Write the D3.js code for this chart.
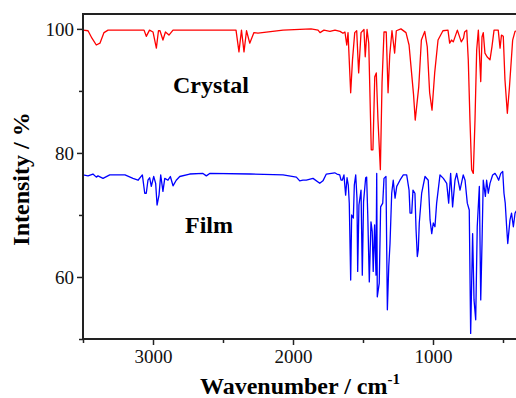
<!DOCTYPE html>
<html>
<head>
<meta charset="utf-8">
<script src="https://cdn.jsdelivr.net/npm/d3@7"></script>
<style>
  body { margin: 0; background: #fff; }
  text { font-family: "Liberation Serif", "Times New Roman", serif; }
</style>
</head>
<body>
<svg id="chart" width="516" height="398"></svg>
<script>
// [wavenumber, intensity]
const crystal = [
  [3500, 99.8], [3464, 99.7], [3436, 98.5], [3405, 97.4], [3379, 97.7], [3350, 99.4], [3321, 99.8],
  [3064, 99.8], [3048, 98.8], [3025, 99.8], [3000, 99.5], [2976, 96.9], [2961, 99.7], [2950, 99.7],
  [2929, 98.2], [2911, 99.5], [2886, 99.0], [2857, 99.8], [2407, 99.8], [2386, 96.3], [2368, 99.8],
  [2350, 96.3], [2332, 99.7], [2309, 97.7], [2279, 99.4], [2250, 99.3], [2071, 99.8], [1871, 100],
  [1821, 99.8], [1807, 99.4], [1779, 99.8], [1736, 99.6], [1700, 99.8], [1664, 99.6], [1643, 99.3],
  [1629, 99.5], [1616, 97.4], [1607, 99.4], [1588, 89.7], [1575, 95.0], [1559, 99.4], [1545, 99.7],
  [1531, 92.9], [1514, 99.4], [1493, 99.9], [1484, 95.5], [1471, 99.9], [1459, 97.7], [1441, 80.5],
  [1429, 80.5], [1416, 92.3], [1405, 92.9], [1393, 85.3], [1376, 77.3], [1364, 91.3], [1350, 99.5],
  [1334, 99.5], [1321, 89.7], [1309, 95.8], [1293, 99.7], [1274, 96.1], [1262, 99.7], [1229, 100],
  [1193, 99.4], [1171, 97.4], [1155, 93.4], [1139, 89.4], [1127, 85.3], [1102, 90.6], [1083, 98.2],
  [1059, 99.6], [1041, 97.1], [1024, 89.7], [1007, 86.9], [988, 92.9], [964, 98.2], [929, 99.7],
  [893, 99.8], [881, 97.7], [868, 98.2], [855, 97.9], [826, 99.8], [798, 97.9], [782, 98.5],
  [774, 99.5], [759, 99.8], [748, 95.0], [736, 85.3], [724, 77.3], [712, 76.7], [700, 85.3],
  [688, 96.6], [676, 99.8], [659, 91.5], [650, 98.7], [641, 99.4], [629, 96.1], [614, 95.5],
  [593, 95.0], [579, 97.1], [564, 99.8], [534, 99.8], [521, 96.9], [511, 99.0], [498, 98.8],
  [486, 91.8], [469, 86.4], [454, 90.6], [431, 98.2], [414, 99.6], [400, 99.7]
];

const film = [
  [3500, 76.45], [3464, 76.3], [3429, 76.6], [3405, 76.1], [3393, 76.3], [3357, 75.9], [3309, 76.45],
  [3200, 76.45], [3143, 75.9], [3107, 75.6], [3076, 76.45], [3059, 73.5], [3048, 73.5], [3036, 75.6],
  [3024, 76.0], [3012, 74.6], [2995, 76.2], [2981, 75.1], [2971, 71.6], [2957, 73.2], [2945, 76.45],
  [2929, 73.8], [2916, 75.9], [2893, 75.6], [2876, 76.2], [2857, 74.7], [2834, 75.6], [2809, 76.2],
  [2738, 76.6], [2643, 76.7], [2619, 76.3], [2595, 76.7], [2307, 76.6], [2071, 76.45], [1976, 76.1],
  [1952, 75.5], [1929, 75.6], [1905, 75.6], [1857, 75.9], [1809, 75.1], [1786, 75.5], [1762, 76.6],
  [1702, 76.8], [1686, 76.6], [1666, 76.45], [1657, 75.6], [1648, 75.6], [1636, 76.45], [1624, 73.2],
  [1614, 76.0], [1605, 74.8], [1598, 71.9], [1588, 59.5], [1581, 70.0], [1569, 69.5], [1562, 74.8],
  [1552, 76.45], [1543, 72.7], [1538, 60.9], [1529, 71.6], [1514, 74.0], [1505, 60.3], [1496, 72.1],
  [1481, 76.0], [1474, 76.1], [1466, 70.0], [1455, 59.2], [1443, 68.9], [1434, 67.3], [1427, 60.9],
  [1417, 68.4], [1407, 60.3], [1402, 76.7], [1398, 56.8], [1384, 59.0], [1374, 71.3], [1359, 71.9],
  [1350, 75.9], [1336, 76.2], [1326, 54.7], [1316, 61.7], [1307, 65.4], [1295, 73.5], [1284, 75.6],
  [1271, 72.7], [1259, 74.6], [1236, 75.6], [1212, 76.45], [1188, 76.45], [1171, 74.0], [1164, 70.3],
  [1152, 70.3], [1143, 74.0], [1129, 73.5], [1121, 67.6], [1112, 63.3], [1105, 64.4], [1098, 68.7],
  [1081, 73.5], [1057, 76.2], [1034, 75.6], [1021, 69.2], [1009, 67.0], [998, 68.7], [986, 68.1],
  [974, 71.9], [950, 76.45], [926, 75.9], [902, 75.1], [888, 71.9], [874, 76.7], [860, 71.3],
  [843, 75.6], [831, 76.7], [807, 74.0], [784, 76.45], [771, 75.6], [755, 71.9], [741, 70.8],
  [731, 50.9], [717, 67.0], [707, 56.3], [695, 53.1], [684, 68.1], [669, 74.6], [659, 56.3],
  [650, 65.4], [641, 75.6], [626, 73.0], [617, 75.6], [605, 73.5], [593, 75.1], [574, 76.45],
  [557, 76.7], [543, 76.2], [531, 75.6], [516, 76.7], [502, 77.0], [493, 73.5], [484, 71.9],
  [474, 68.1], [466, 65.4], [457, 67.6], [450, 69.2], [439, 70.3], [426, 68.1], [414, 70.3], [400, 70.8]
];

const xTicks = [3500, 3000, 2500, 2000, 1500, 1000, 500];
const xLabels = [3000, 2000, 1000];
const yTicks = [50, 60, 70, 80, 90, 100];
const yLabels = [60, 80, 100];

const mLeft = 83, mTop = 14, mRight = 517, mBottom = 339;
const serif = "'Liberation Serif', 'Times New Roman', serif";

const svg = d3.select("#chart");

const x = d3.scaleLinear().domain([3500, 400]).range([mLeft, mRight]);
const y = d3.scaleLinear().domain([50, 102.4]).range([mBottom, mTop]);

svg.append("clipPath").attr("id", "clip")
  .append("rect")
  .attr("x", mLeft).attr("y", mTop)
  .attr("width", mRight - mLeft).attr("height", mBottom - mTop);

const line = d3.line()
  .x(d => x(d[0]))
  .y(d => y(d[1]));

svg.append("path")
  .datum(crystal)
  .attr("clip-path", "url(#clip)")
  .attr("fill", "none")
  .attr("stroke", "#ff0000")
  .attr("stroke-width", 1.3)
  .attr("stroke-linejoin", "round")
  .attr("d", line);

svg.append("path")
  .datum(film)
  .attr("clip-path", "url(#clip)")
  .attr("fill", "none")
  .attr("stroke", "#0000ff")
  .attr("stroke-width", 1.3)
  .attr("stroke-linejoin", "round")
  .attr("d", line);

// axes
const xAxis = d3.axisBottom(x)
  .tickValues(xTicks)
  .tickSize(0)
  .tickFormat(d => xLabels.includes(d) ? d : "");

const gx = svg.append("g")
  .attr("transform", "translate(0," + mBottom + ")")
  .call(xAxis);
gx.select(".domain").remove();
gx.selectAll(".tick line")
  .attr("stroke", "#222")
  .attr("stroke-width", 1.5)
  .attr("y2", d => xLabels.includes(d) ? 6 : 4);
gx.selectAll(".tick text")
  .attr("y", 11)
  .style("font-size", "19px")
  .style("font-family", serif)
  .attr("fill", "#111");

const yAxis = d3.axisLeft(y)
  .tickValues(yTicks)
  .tickSize(0)
  .tickFormat(d => yLabels.includes(d) ? d : "");

const gy = svg.append("g")
  .attr("transform", "translate(" + mLeft + ",0)")
  .call(yAxis);
gy.select(".domain").remove();
gy.selectAll(".tick line")
  .attr("stroke", "#222")
  .attr("stroke-width", 1.5)
  .attr("x2", d => yLabels.includes(d) ? -6 : -4);
gy.selectAll(".tick text")
  .attr("x", -9)
  .attr("dy", "0.34em")
  .style("font-size", "19px")
  .style("font-family", serif)
  .attr("fill", "#111");

// frame
svg.append("path")
  .attr("fill", "none")
  .attr("stroke", "#222")
  .attr("stroke-width", 2)
  .attr("d", "M" + (mRight + 2) + "," + mTop + "H" + mLeft + "V" + mBottom + "H" + (mRight + 2));

// labels
svg.append("text")
  .attr("x", 173).attr("y", 93)
  .attr("font-size", "24px").attr("font-weight", "bold")
  .text("Crystal");

svg.append("text")
  .attr("x", 185).attr("y", 233)
  .attr("font-size", "24px").attr("font-weight", "bold")
  .text("Film");

const xt = svg.append("text")
  .attr("x", 300).attr("y", 394)
  .attr("text-anchor", "middle")
  .attr("font-size", "24px").attr("font-weight", "bold");
xt.append("tspan").text("Wavenumber / cm");
xt.append("tspan").attr("dy", -10).attr("font-size", "15px").text("-1");

svg.append("text")
  .attr("transform", "translate(29,179) rotate(-90)")
  .attr("text-anchor", "middle")
  .attr("font-size", "24px").attr("font-weight", "bold")
  .text("Intensity / %");
</script>
</body>
</html>
